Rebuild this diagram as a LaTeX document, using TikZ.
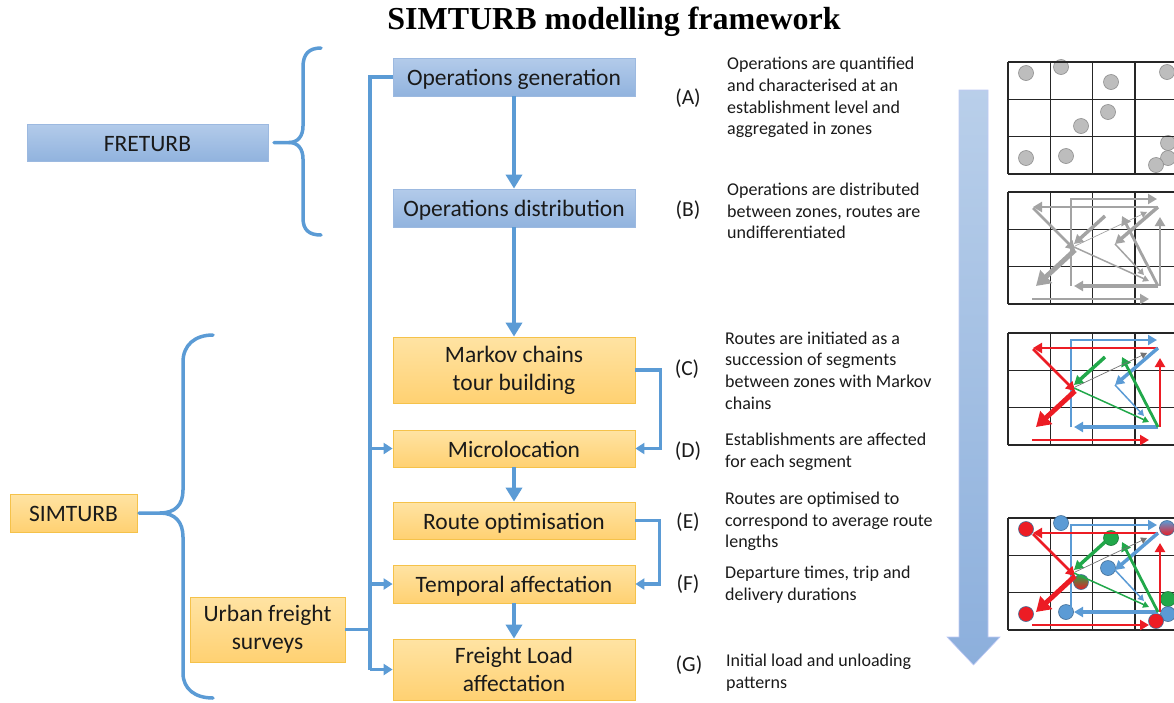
\documentclass[tikz,border=0pt]{standalone}
\usepackage{fontspec}
\setmainfont{Carlito}
\newfontfamily\titlefont{Liberation Serif}
\usetikzlibrary{arrows.meta}
\definecolor{lineblue}{HTML}{5B9BD5}
\definecolor{bluetop}{HTML}{B3CBEA}
\definecolor{bluebot}{HTML}{91B3DE}
\definecolor{blueedge}{HTML}{9CB9E0}
\definecolor{ortop}{HTML}{FFE3A3}
\definecolor{orbot}{HTML}{FFD172}
\definecolor{oredge}{HTML}{F5C24A}
\definecolor{txt}{HTML}{1A1A1A}
\definecolor{rred}{HTML}{EC1C24}
\definecolor{rblue}{HTML}{5B9BD5}
\definecolor{rgreen}{HTML}{21A84A}
\definecolor{rgrey}{HTML}{A3A3A3}
\definecolor{dotgrey}{HTML}{BDBDBD}
\definecolor{arrtop}{HTML}{B9CFEA}
\definecolor{arrbot}{HTML}{8CAFDC}
\newcommand\boxfont{\fontsize{23.5}{28}\selectfont}
\newcommand\descfont{\fontsize{18}{21.7}\selectfont}
\newcommand\lblfont{\fontsize{21.5}{26}\selectfont}
\tikzset{
 bluebox/.style={draw=blueedge, line width=0.8pt, top color=bluetop, bottom color=bluebot, inner sep=0pt, align=center, font=\boxfont, text=txt},
 orangebox/.style={draw=oredge, line width=0.8pt, top color=ortop, bottom color=orbot, inner sep=0pt, align=center, font=\boxfont, text=txt},
 oneline/.style={text height=17pt, text depth=-1pt},
 conn/.style={draw=lineblue, line width=3.5pt, line join=miter},
 mainarrow/.style={conn, -{Triangle[length=14pt,width=16pt]}},
 sidearrow/.style={conn, -{Triangle[length=9pt,width=11pt]}},
 bracepath/.style={draw=lineblue, line width=3.5pt, line cap=round},
 lbl/.style={font=\lblfont, text=txt, inner sep=0pt},
 desc/.style={font=\descfont, text=txt, align=left, anchor=west, inner sep=0pt},
 gridline/.style={draw=black!85, line width=1.4pt},
 tipS/.style={-{Triangle[length=6pt,width=6.5pt]}},
 tipM/.style={-{Triangle[length=9pt,width=10pt]}},
 tipL/.style={-{Triangle[length=14pt,width=17pt]}},
 dot/.style={line width=0.6pt},
}
\newcommand\zonegrid{%
 \foreach \yy in {0,37.3,74.6,112}{\draw[gridline] (0,\yy) -- (180,\yy);}
 \foreach \xx in {0,42.3,84.6,126.9,169.2}{\draw[gridline] (\xx,0) -- (\xx,112);}
}
\newcommand\routes[4]{%
 \draw[#2, line width=2pt, tipM] (63,94) -- (63,7) -- (149,7);
 \draw[#1, line width=2.2pt, tipM] (150,15) -- (25,15);
 \draw[#1, line width=2.8pt, tipM] (25,16) -- (67,58);
 \draw[#1, line width=5pt, tipL] (67,58) -- (28,94);
 \draw[#1, line width=2.8pt, tipM] (24,107) -- (141,107);
 \draw[#1, line width=2.2pt, tipM] (152,94) -- (152,25);
 \draw[#2, line width=3.5pt, tipM] (150,15) -- (107,52);
 \draw[#2, line width=1.5pt, tipS] (107,52) -- (136,83);
 \draw[#2, line width=3.5pt, tipM] (150,94) -- (66,94);
 \draw[#3, line width=3.5pt, tipM] (97,24) -- (66,52);
 \draw[#3, line width=1.5pt, tipS] (66,55) -- (141,89);
 \draw[#3, line width=2.8pt, tipM] (150,94) -- (114,24);
 \draw[#4, line width=0.7pt, tipS] (67,54) -- (139,20);
}
\begin{document}
\begin{tikzpicture}[x=1pt,y=-1pt]
\useasboundingbox (0,0) rectangle (1174,702);

% title
\node[font=\titlefont\bfseries\fontsize{32}{36}\selectfont, text=black] (title) at (614,22) {SIMTURB modelling framework};

% left boxes
\node[bluebox, oneline, minimum width=241pt, minimum height=37pt] (freturb) at (147.5,142.5) {FRETURB};
\node[orangebox, oneline, minimum width=127pt, minimum height=38pt] (simturb) at (73.5,513) {SIMTURB};
\node[orangebox, minimum width=155pt, minimum height=65pt] (urban) at (267.5,629.5) {Urban freight\\surveys};

% main column
\node[bluebox, oneline, minimum width=242pt, minimum height=38pt] (gen) at (514,77) {Operations generation};
\node[bluebox, oneline, minimum width=242pt, minimum height=38pt] (dist) at (514,208) {Operations distribution};
\node[orangebox, minimum width=242pt, minimum height=66pt] (markov) at (514,370) {Markov chains\\tour building};
\node[orangebox, oneline, minimum width=242pt, minimum height=37pt] (micro) at (514,448.5) {Microlocation};
\node[orangebox, oneline, minimum width=242pt, minimum height=37pt] (route) at (514,520.5) {Route optimisation};
\node[orangebox, oneline, minimum width=242pt, minimum height=38pt] (temp) at (514,584) {Temporal affectation};
\node[orangebox, minimum width=242pt, minimum height=61pt] (load) at (514,669.5) {Freight Load\\affectation};

% braces
\coordinate (ftip) at (274,142.5);
\draw[bracepath] (321,48) .. controls (309,48) and (303,54) .. (303,67) -- (303,126)
  .. controls (303,136) and (298,142.5) .. (289,142.5) -- (ftip);
\draw[bracepath] (289,142.5) .. controls (298,142.5) and (303,149) .. (303,159) -- (303,218)
  .. controls (303,230) and (309,235) .. (321,235);
\coordinate (stip) at (139,513);
\draw[bracepath] (213,335) .. controls (195,335) and (183,345) .. (183,362) -- (183,490)
  .. controls (183,505) and (175,513) .. (160,513) -- (stip);
\draw[bracepath] (160,513) .. controls (175,513) and (183,522) .. (183,537) -- (183,673)
  .. controls (183,689) and (195,698) .. (213,698);

% connectors
\coordinate (trunk) at (370,0);
\draw[conn] (gen.west) -- (gen.west -| trunk) -- (load.west -| trunk);
\draw[sidearrow] (micro.west -| trunk) -- (micro.west);
\draw[sidearrow] (temp.west -| trunk) -- (temp.west);
\draw[sidearrow] (load.west -| trunk) -- (load.west);
\draw[conn] (urban.east) -- (urban.east -| trunk);
\draw[mainarrow] (gen.south) -- (dist.north);
\draw[mainarrow] (dist.south) -- (markov.north);
\draw[mainarrow] (micro.south) -- (route.north);
\draw[mainarrow] (temp.south) -- (load.north);
\draw[sidearrow] (markov.east) -- ++(25,0) |- (micro.east);
\draw[sidearrow] (route.east) -- ++(24,0) |- (temp.east);

% labels
\node[lbl] (lA) at (688,98) {(A)};
\node[lbl] (lB) at (688,210) {(B)};
\node[lbl] (lC) at (687,369) {(C)};
\node[lbl] (lD) at (688,451) {(D)};
\node[lbl] (lE) at (688,522) {(E)};
\node[lbl] (lF) at (688,584) {(F)};
\node[lbl] (lG) at (689,665) {(G)};

% descriptions
\node[desc] (dA) at (727,97.5) {Operations are quantified\\and characterised at an\\establishment level and\\aggregated in zones};
\node[desc] (dB) at (727,211) {Operations are distributed\\between zones, routes are\\undifferentiated};
\node[desc] (dC) at (725,370.5) {Routes are initiated as a\\succession of segments\\between zones with Markov\\chains};
\node[desc] (dD) at (725,452) {Establishments are affected\\for each segment};
\node[desc] (dE) at (725,521.5) {Routes are optimised to\\correspond to average route\\lengths};
\node[desc] (dF) at (725,585) {Departure times, trip and\\delivery durations};
\node[desc] (dG) at (726,673) {Initial load and unloading\\patterns};

% big arrow
\shade[top color=arrtop, bottom color=arrbot, draw=arrtop!80!blue!60, line width=0.6pt]
  (959,90) -- (988,90) -- (988,637) -- (1000,637) -- (973.5,665) -- (947,637) -- (959,637) -- cycle;

% grids
\begin{scope}
\clip (1000,40) rectangle (1174,702);
% grid 1
\begin{scope}[shift={(1008,62)}]
 \foreach \p in {(18,11),(53,5),(103,20),(159,10),(100,50),(73,64),(18,96),(58,94),(160,81),(160,96),(148,103)}
  {\draw[dot, fill=dotgrey, draw=black!45] \p circle (7.5);}
 \zonegrid
\end{scope}
% grid 2
\begin{scope}[shift={(1008,192)}]
 \zonegrid
 \routes{rgrey}{rgrey}{rgrey}{rgrey}
\end{scope}
% grid 3
\begin{scope}[shift={(1008,333)}]
 \zonegrid
 \routes{rred}{rblue}{rgreen}{black!55}
\end{scope}
% grid 4
\begin{scope}[shift={(1008,518)}]
 \zonegrid
 \draw[dot, fill=rred, draw=rblue!70!black] (18,11) circle (7.5);
 \draw[dot, fill=rblue, draw=rblue!70!black] (53,5) circle (7.5);
 \draw[dot, top color=rblue, bottom color=rred, draw=rblue!70!black] (159,10) circle (7.5);
 \draw[dot, fill=rgreen, draw=rgreen!70!black] (103,20) circle (7.5);
 \draw[dot, fill=rblue, draw=rblue!70!black] (100,50) circle (7.5);
 \draw[dot, top color=rgreen, bottom color=rred, draw=rblue!70!black] (73,64) circle (7.5);
 \draw[dot, fill=rred, draw=rblue!70!black] (18,96) circle (7.5);
 \draw[dot, fill=rblue, draw=rblue!70!black] (58,94) circle (7.5);
 \draw[dot, fill=rgreen, draw=rgreen!70!black] (160,81) circle (7.5);
 \draw[dot, fill=rblue, draw=rblue!70!black] (160,96) circle (7.5);
 \draw[dot, fill=rred, draw=rblue!70!black] (148,103) circle (7.5);
 \routes{rred}{rblue}{rgreen}{black!55}
\end{scope}
\end{scope}
\end{tikzpicture}
\end{document}
